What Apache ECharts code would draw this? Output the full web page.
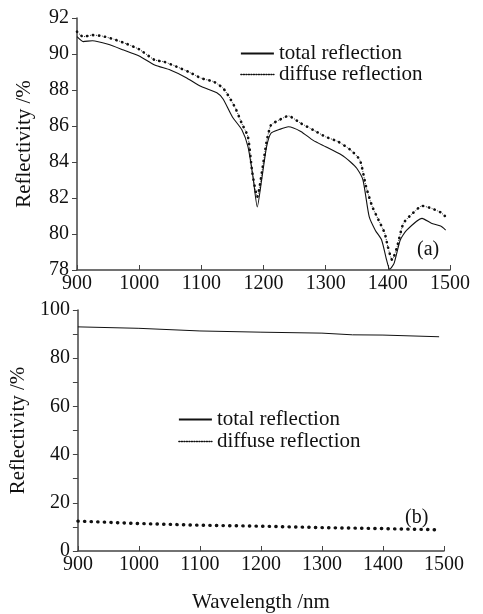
<!DOCTYPE html>
<html>
<head>
<meta charset="utf-8">
<script src="https://cdn.jsdelivr.net/npm/echarts@6/dist/echarts.min.js"></script>
<style>
html, body { margin: 0; padding: 0; background: #fff; }
#main { width: 483px; height: 614px; }
</style>
</head>
<body>
<div id="main"></div>
<script>
// panel (a): wavelength / reflectivity
var aTotalX = [900, 910, 925, 950, 975, 1000, 1025, 1050, 1075, 1100, 1125, 1135, 1150, 1165, 1175, 1183, 1190, 1197, 1205, 1212, 1225, 1240, 1260, 1280, 1300, 1325, 1340, 1350, 1360, 1370, 1380, 1390, 1398, 1403, 1410, 1420, 1430, 1455, 1470, 1485, 1493];
var aTotalY = [90.96, 90.69, 90.74, 90.54, 90.22, 89.89, 89.39, 89.11, 88.70, 88.19, 87.85, 87.5, 86.5, 85.8, 84.85, 83.2, 81.5, 83.0, 84.85, 85.6, 85.8, 85.96, 85.7, 85.2, 84.85, 84.4, 84.0, 83.65, 83.0, 80.96, 80.2, 79.67, 78.56, 78.04, 78.37, 79.67, 80.2, 80.87, 80.6, 80.44, 80.22];
var aDiffX = [900, 910, 925, 940, 960, 980, 1000, 1025, 1040, 1060, 1080, 1100, 1120, 1135, 1145, 1155, 1165, 1175, 1182, 1190, 1198, 1205, 1212, 1225, 1240, 1260, 1280, 1300, 1320, 1340, 1355, 1365, 1375, 1385, 1395, 1400, 1407, 1415, 1425, 1440, 1455, 1470, 1485, 1493];
var aDiffY = [91.24, 90.96, 91.05, 91.0, 90.81, 90.56, 90.26, 89.67, 89.57, 89.3, 89.0, 88.65, 88.46, 88.1, 87.6, 86.98, 86.15, 85.4, 83.4, 82.07, 83.56, 85.13, 86.05, 86.33, 86.56, 86.15, 85.78, 85.4, 85.13, 84.67, 84.11, 82.63, 81.52, 80.78, 80.04, 79.3, 78.56, 79.3, 80.59, 81.15, 81.56, 81.43, 81.2, 80.96];

// panel (b)
var bX = [900, 1000, 1100, 1200, 1300, 1350, 1400, 1492];
var bTotal = [93.0, 92.4, 91.3, 90.8, 90.4, 89.7, 89.6, 88.9];
var bDiffuse = [12.4, 11.4, 10.7, 10.3, 9.7, 9.5, 9.3, 8.8];

var xTicks = [900, 1500, 100];
var aTicks = [78, 92, 2];
var bTicks = [0, 100, 20];

var seriesNames = ['total reflection', 'diffuse reflection'];
var yName = 'Reflectivity /%';
var xName = 'Wavelength /nm';

function pairs(xs, ys) {
    return xs.map(function (x, i) { return [x, ys[i]]; });
}

var FONT = 'Liberation Serif';
var INK = '#111';
var AXIS = '#444';

function plain(v) { return String(v); }

function xAxisOpt(idx, withName) {
    return {
        type: 'value', gridIndex: idx,
        min: xTicks[0], max: xTicks[1], interval: xTicks[2],
        name: withName ? xName : '',
        nameLocation: 'middle', nameGap: 41,
        nameTextStyle: {fontFamily: FONT, fontSize: 21, color: INK},
        axisLine: {show: true, lineStyle: {color: AXIS, width: 1.5}},
        axisTick: {show: true, inside: true, length: 5, lineStyle: {color: AXIS}},
        axisLabel: {fontFamily: FONT, fontSize: 20, color: INK, margin: 4, formatter: plain},
        splitLine: {show: false}
    };
}

function yAxisOpt(idx, t, minor) {
    return {
        type: 'value', gridIndex: idx,
        min: t[0], max: t[1], interval: t[2],
        name: yName, nameLocation: 'middle', nameRotate: 90, nameGap: 42,
        nameTextStyle: {fontFamily: FONT, fontSize: 21, color: INK},
        axisLine: {show: true, lineStyle: {color: AXIS, width: 1.5}},
        axisTick: {show: true, length: 5, lineStyle: {color: AXIS}},
        minorTick: {show: minor, splitNumber: 2, length: 5, lineStyle: {color: AXIS}},
        axisLabel: {fontFamily: FONT, fontSize: 20, color: INK, margin: 8, formatter: plain},
        splitLine: {show: false}
    };
}

function legendOpt(left, top, gap) {
    var txt = {fontFamily: FONT, fontSize: 21, color: INK};
    return {
        orient: 'vertical', left: left, top: top,
        itemWidth: 33, itemHeight: 10, itemGap: gap,
        padding: 0,
        textStyle: txt,
        itemStyle: {opacity: 0},
        data: [
            {name: seriesNames[0], textStyle: txt, lineStyle: {type: 'solid', width: 1.8, color: INK}},
            {name: seriesNames[1], textStyle: txt, lineStyle: {type: [1, 1.5], width: 1.5, color: INK}}
        ]
    };
}

var myecharts = echarts.init(document.getElementById('main'));
var option = {
    backgroundColor: '#fff',
    animation: false,
    textStyle: {fontFamily: FONT},
    grid: [
        {left: 77, right: 33, top: 18, bottom: 344},
        {left: 76, right: 39, top: 310, bottom: 51}
    ],
    legend: [legendOpt(240, 43, 0), legendOpt(178, 409, 1)],
    xAxis: [xAxisOpt(0, false), xAxisOpt(1, true)],
    yAxis: [yAxisOpt(0, aTicks, false), yAxisOpt(1, bTicks, true)],
    graphic: [
        {type: 'text', left: 417, top: 240, style: {text: '(a)', font: '20px "Liberation Serif"', fill: INK}},
        {type: 'text', left: 405, top: 508, style: {text: '(b)', font: '20px "Liberation Serif"', fill: INK}}
    ],
    series: [
        {
            name: seriesNames[0], type: 'line', xAxisIndex: 0, yAxisIndex: 0,
            symbol: 'none', smooth: 0.2, itemStyle: {color: INK},
            lineStyle: {color: INK, width: 1.1},
            data: pairs(aTotalX, aTotalY)
        },
        {
            name: seriesNames[1], type: 'line', xAxisIndex: 0, yAxisIndex: 0,
            symbol: 'none', smooth: 0.2, itemStyle: {color: INK},
            lineStyle: {color: INK, width: 2.6, type: [0.3, 5.7], cap: 'round'},
            data: pairs(aDiffX, aDiffY)
        },
        {
            name: seriesNames[1], type: 'line', xAxisIndex: 0, yAxisIndex: 0,
            symbol: 'none', smooth: 0.2, itemStyle: {color: INK},
            lineStyle: {color: INK, width: 0.8, type: [1, 2]},
            data: pairs(aDiffX, aDiffY)
        },
        {
            name: seriesNames[0], type: 'line', xAxisIndex: 1, yAxisIndex: 1,
            symbol: 'none', itemStyle: {color: INK},
            lineStyle: {color: INK, width: 1},
            data: pairs(bX, bTotal)
        },
        {
            name: seriesNames[1], type: 'line', xAxisIndex: 1, yAxisIndex: 1,
            symbol: 'none', itemStyle: {color: INK},
            lineStyle: {color: INK, width: 3.4, type: [0.3, 6.3], cap: 'round'},
            data: pairs(bX, bDiffuse)
        }
    ]
};
myecharts.setOption(option);
</script>
</body>
</html>
